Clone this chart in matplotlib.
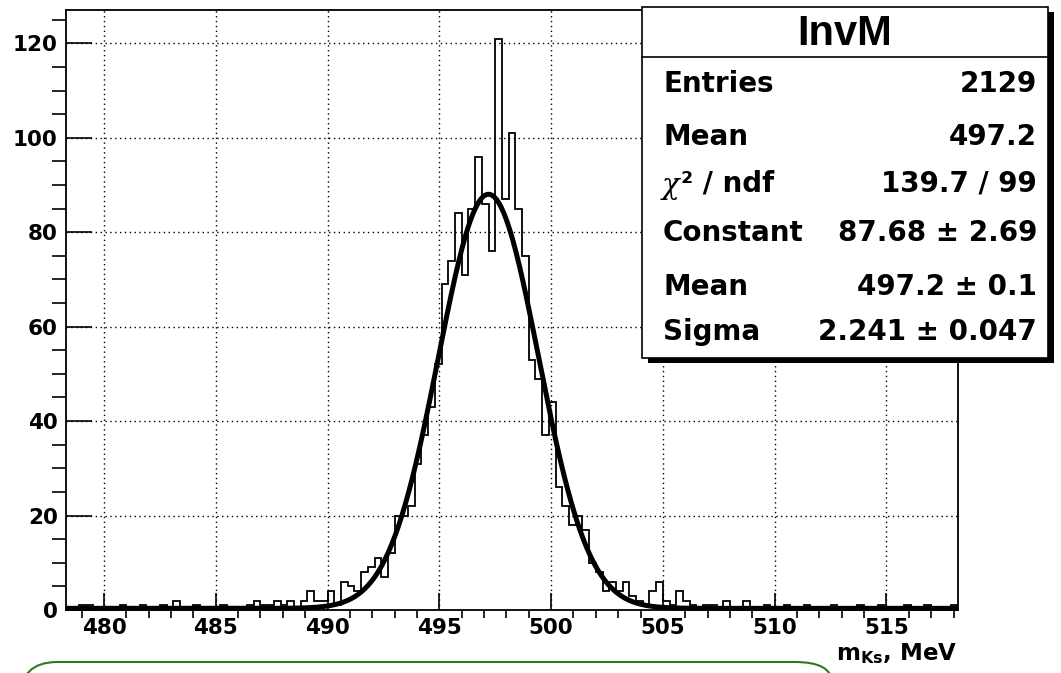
import numpy as np
import matplotlib
matplotlib.use("Agg")
import matplotlib.pyplot as plt
from matplotlib.patches import Rectangle, FancyBboxPatch
from matplotlib.lines import Line2D

plt.rcParams['font.family'] = ['DejaVu Sans']
plt.rcParams['font.weight'] = 'bold'
plt.rcParams['mathtext.fontset'] = 'custom'
plt.rcParams['mathtext.bf'] = 'DejaVu Sans:bold'
plt.rcParams['mathtext.rm'] = 'DejaVu Sans:bold'

# histogram InvM: 133 bins of 0.3 MeV starting at 478.3 MeV
bin_lo = 478.3
bin_width = 0.3
counts = [
    0, 0, 1, 1, 0, 0, 0, 0, 1, 0,
    0, 1, 0, 0, 1, 0, 2, 0, 0, 1,
    0, 0, 0, 1, 0, 0, 0, 1, 2, 1,
    1, 2, 1, 2, 0, 2, 4, 2, 2, 4,
    1, 6, 5, 4, 8, 9, 11, 7, 12, 20,
    20, 22, 31, 37, 43, 52, 69, 74, 84, 71,
    85, 96, 86, 76, 121, 87, 101, 85, 75, 53,
    49, 37, 44, 26, 22, 18, 20, 17, 10, 8,
    4, 6, 4, 6, 3, 2, 1, 4, 6, 2,
    1, 4, 2, 1, 0, 1, 1, 0, 2, 0,
    0, 2, 0, 0, 1, 0, 0, 1, 0, 0,
    1, 0, 0, 0, 1, 0, 0, 0, 1, 0,
    0, 1, 0, 0, 0, 1, 0, 0, 1, 0,
    0, 0, 1,
]

# gaussian fit result
fit_const = 87.68
fit_mean = 497.2
fit_sigma = 2.241

stats_names = ['Entries', 'Mean', None, 'Constant', 'Mean', 'Sigma']
stats_values = ['2129', '497.2', '139.7 / 99', '87.68 \u00b1 2.69',
                '497.2 \u00b1 0.1', '2.241 \u00b1 0.047']

W, H = 1061, 673


def fx(px):
    return px / W


def fy(py):
    return 1 - py / H


fig = plt.figure(figsize=(W / 100, H / 100), dpi=100)
ax = fig.add_axes([fx(66), fy(610), fx(958) - fx(66), fy(10) - fy(610)])

edges = bin_lo + bin_width * np.arange(len(counts) + 1)
ax.stairs(counts, edges, color='black', linewidth=1.3)

xf = np.linspace(edges[0], edges[-1], 800)
yf = fit_const * np.exp(-0.5 * ((xf - fit_mean) / fit_sigma) ** 2)
ax.plot(xf, yf + 0.35, color='black', linewidth=3.6, solid_capstyle='butt', clip_on=False)

ax.set_xlim(edges[0], edges[-1])
ax.set_ylim(0, 1.05 * max(counts))

ax.set_xticks(np.arange(480, 516, 5))
ax.set_xticks(np.arange(479, 519, 1), minor=True)
ax.set_yticks(np.arange(0, 121, 20))
ax.set_yticks(np.arange(0, 126, 5), minor=True)

ax.grid(True, which='major', color='black', linestyle=(0, (1, 2.5)), linewidth=1.0)
ax.set_axisbelow(True)

ax.tick_params(direction='in', top=False, right=False, width=1.2, colors='black')
ax.tick_params(axis='y', which='major', length=19, pad=6, labelsize=15.5)
ax.tick_params(axis='y', which='minor', length=10, width=1.2)
ax.tick_params(axis='x', which='major', length=12, pad=6, labelsize=15.5)
ax.tick_params(axis='x', which='minor', length=6, width=1.2)
for lab in ax.get_xticklabels() + ax.get_yticklabels():
    lab.set_fontweight('bold')
for sp in ax.spines.values():
    sp.set_linewidth(1.3)

fig.text(fx(957), fy(660), r'm$_{\mathbf{Ks}}$, MeV', ha='right', va='baseline',
         fontsize=16.5, fontweight='bold')

# stats box with shadow
bx0, bx1, by0, by1 = 642, 1048, 7, 358
fig.add_artist(Rectangle((fx(bx0 + 6), fy(by1 + 5)), fx(bx1) - fx(bx0), fy(by0) - fy(by1),
                         transform=fig.transFigure, facecolor='black', edgecolor='none'))
fig.add_artist(Rectangle((fx(bx0), fy(by1)), fx(bx1) - fx(bx0), fy(by0) - fy(by1),
                         transform=fig.transFigure, facecolor='white', edgecolor='black',
                         linewidth=1.2))
fig.add_artist(Line2D([fx(bx0), fx(bx1)], [fy(57), fy(57)], transform=fig.transFigure,
                      color='black', linewidth=1.2))
fig.text(fx((bx0 + bx1) / 2), fy(34), 'InvM', ha='center', va='center',
         fontsize=30, fontweight='bold', family='Liberation Sans')
row_y = [84, 137, 184, 233, 287, 332]
for name, val, ry in zip(stats_names, stats_values, row_y):
    if name is None:
        fig.text(fx(662), fy(ry + 2), '\u03c7', ha='left', va='center', fontsize=21,
                 fontweight='normal', family='DejaVu Serif', style='italic')
        fig.text(fx(681), fy(ry), '\u00b2 / ndf', ha='left', va='center', fontsize=20,
                 fontweight='bold')
    else:
        fig.text(fx(663), fy(ry), name, ha='left', va='center', fontsize=20, fontweight='bold')
    fig.text(fx(1037), fy(ry), val, ha='right', va='center', fontsize=20, fontweight='bold')

# green frame of the page below the plot
fig.add_artist(FancyBboxPatch((fx(20), fy(720)), fx(832) - fx(20), fy(662) - fy(720),
                              boxstyle='round,pad=0,rounding_size=0.035',
                              transform=fig.transFigure, facecolor='none',
                              edgecolor='#2f7a1f', linewidth=1.5, clip_on=False,
                              mutation_aspect=W / H))

fig.savefig('out.png', dpi=100)
